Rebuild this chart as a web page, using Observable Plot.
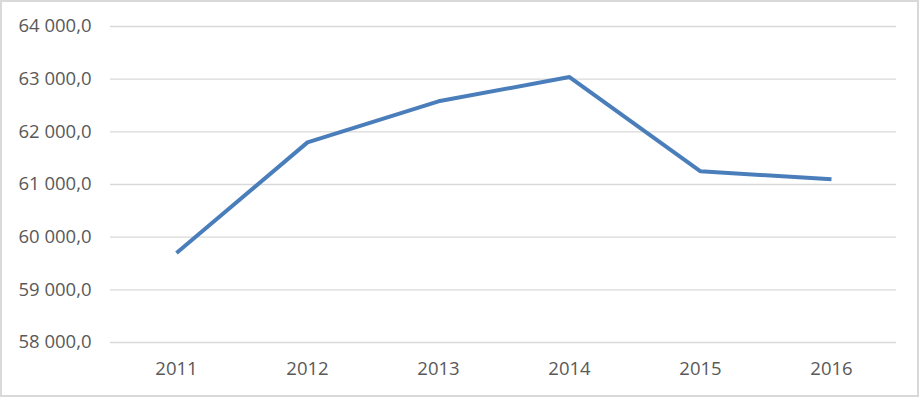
<!DOCTYPE html>
<html>
<head>
<meta charset="utf-8">
<script src="https://cdn.jsdelivr.net/npm/d3@7"></script>
<script src="https://cdn.jsdelivr.net/npm/@observablehq/plot@0.6"></script>
<style>
  html, body { margin: 0; padding: 0; background: #fff; }
  #wrap { position: relative; width: 921px; height: 399px; overflow: hidden; }
  #border { position: absolute; left: 0; top: 0; width: 919px; height: 397px; box-sizing: border-box; border: 2px solid #d9d9d9; pointer-events: none; }
</style>
</head>
<body>
<div id="wrap"><div id="border"></div></div>
<script>
const years = ["2011", "2012", "2013", "2014", "2015", "2016"];
const values = [59700, 61800, 62580, 63040, 61250, 61100];
const yTicks = [58000, 59000, 60000, 61000, 62000, 63000, 64000];

const data = years.map((y, i) => ({year: y, value: values[i]}));
const fmt = d3.formatLocale({decimal: ",", thousands: "\u00a0", grouping: [3], currency: ["", ""]}).format(",.1f");

const chart = Plot.plot({
  width: 921,
  height: 399,
  marginLeft: 110,
  marginRight: 25,
  marginTop: 26,
  marginBottom: 57,
  style: {fontFamily: "'Open Sans', sans-serif", fontSize: "18.5px", color: "#595959", background: "transparent"},
  x: {domain: years, label: null},
  y: {domain: [58000, 64000], label: null},
  marks: [
    Plot.gridY(yTicks, {stroke: "#d9d9d9", strokeOpacity: 1, strokeWidth: 1.3}),
    Plot.axisY(yTicks, {tickSize: 0, tickPadding: 19, tickFormat: fmt, fill: "#595959", label: null}),
    Plot.axisX({tickSize: 0, tickPadding: 19, fill: "#595959", label: null}),
    Plot.line(data, {x: "year", y: "value", stroke: "#4a7ebb", strokeWidth: 4, strokeLinejoin: "miter", strokeLinecap: "butt"})
  ]
});
document.getElementById("wrap").prepend(chart);
</script>
</body>
</html>
